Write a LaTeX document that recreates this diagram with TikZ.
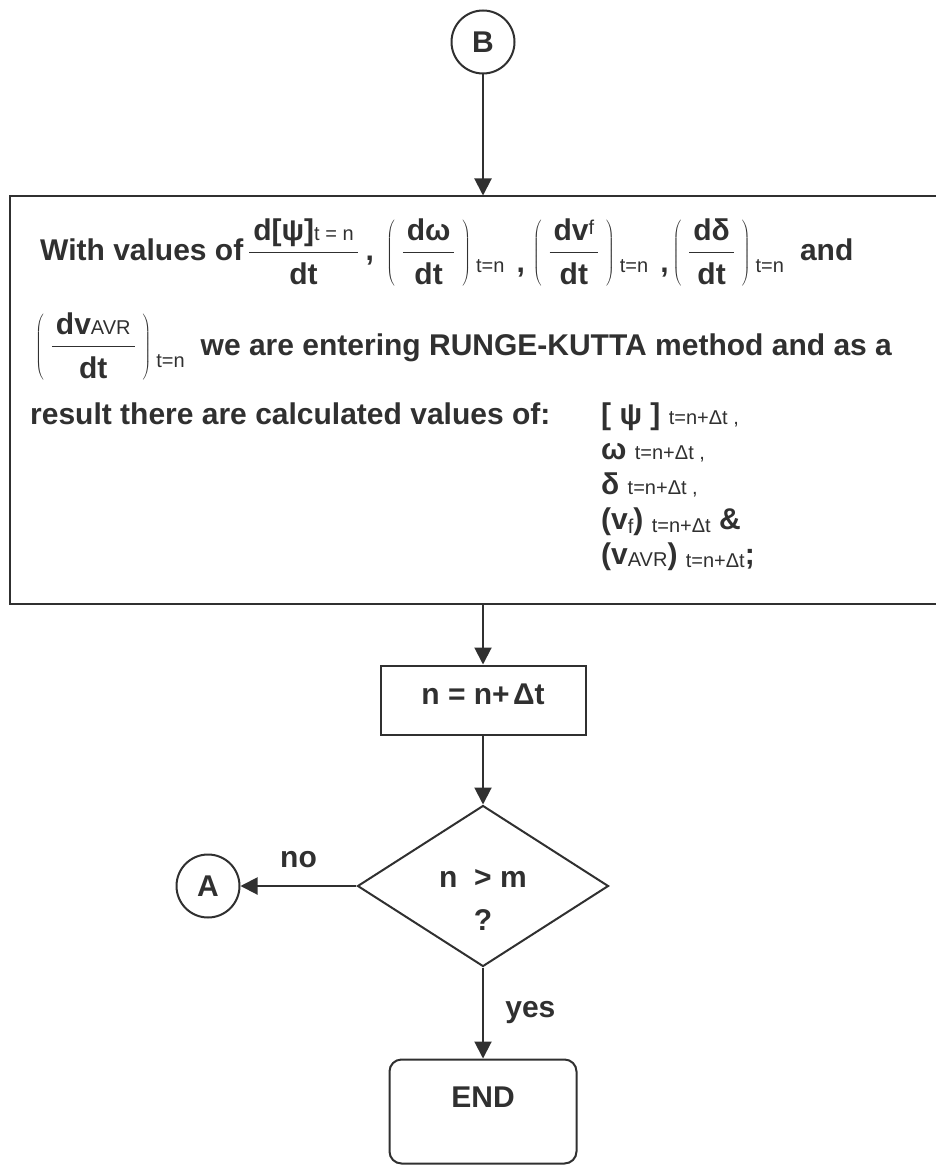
\documentclass[tikz,border=0pt]{standalone}
\usepackage{fix-cm}
\usepackage{fontspec}
\setmainfont{Liberation Sans}
\usepackage{tikz}
\usetikzlibrary{arrows.meta,positioning,shapes.geometric}
\definecolor{ink}{RGB}{48,48,48}
\setlength{\arrayrulewidth}{1.5pt}

% small index text
\newcommand{\sm}[1]{{\fontsize{20}{20}\selectfont\mdseries #1}}
% stacked fraction, with and without brackets
\newcommand{\frc}[2]{\vcenter{\hbox{\renewcommand\arraystretch{0}\begin{tabular}{@{\hspace{4pt}}c@{\hspace{4pt}}}\rule[-11pt]{0pt}{33pt}#1\\\hline\rule[-4pt]{0pt}{35pt}#2\end{tabular}}}}
\newcommand{\dfr}[2]{$\frc{#1}{#2}$}
\newcommand{\pfr}[2]{$\left(\hspace{8pt}\frc{#1}{#2}\hspace{8pt}\right)$}
\newcommand{\tn}{\hspace{5pt}\raisebox{-12pt}{\sm{t=n}}}
\newcommand{\cm}{\raisebox{-12pt}{\hspace{12pt},}}

\begin{document}
\begin{tikzpicture}[
  x=1pt, y=1pt,
  font=\fontsize{30}{35}\selectfont\bfseries,
  color=ink,
  box/.style={draw=ink, line width=2pt, inner sep=0pt},
  conn/.style={circle, draw=ink, line width=2pt, minimum size=63pt, inner sep=0pt},
  arr/.style={-{Triangle[length=17pt,width=17pt]}, line width=2pt, draw=ink},
  txt/.style={anchor=base west, inner sep=0pt}
]
\useasboundingbox (0,0) rectangle (935,-1166);

\node[conn] (B) at (483,-42) {B};
\node[box, below=121pt of B, minimum width=946pt, minimum height=407pt] (rk) {};
\node[box, below=60pt of rk, minimum width=205pt, minimum height=69pt,
  text height=21pt, text depth=12pt] (step) {n = n+ $\!$Δt};
\node[box, diamond, below=69pt of step, minimum width=251pt, minimum height=161pt,
  label={[name=cond, align=center, yshift=-14pt,
    font=\fontsize{30}{43}\selectfont\bfseries]center:n \ > m\\?}] (test) {};
\node[conn, left=116pt of test] (A) {A};
\node[box, rounded corners=12pt, below=91pt of test, minimum width=187pt,
  text height=48pt, text depth=56pt] (stop) {END};

% text of the Runge-Kutta block
\node[txt] (l1) at (40,-261) {With values of\hspace{6pt}\dfr{d[ψ]\sm{t = n}}{dt}\hspace{8pt},\hspace{12pt}\pfr{dω}{dt}\tn\cm\hspace{8pt}\pfr{dv\raisebox{6pt}{\sm{f}}}{dt}\tn\cm\hspace{4pt}\pfr{dδ}{dt}\tn\hspace{16pt}and};
\node[txt] (l2) at (35,-355) {\pfr{dv\sm{AVR}}{dt}\tn\hspace{16pt}we are entering RUNGE-KUTTA method and as a};
\node[txt] (l3) at (30,-424) {result there are calculated values of:};
\node[txt] (vals) at (601,-424) {\begin{tabular}[t]{@{}l@{}}
[ ψ ] \sm{t=n+Δt ,}\\
ω \sm{t=n+Δt ,}\\
δ \sm{t=n+Δt ,}\\
(v\raisebox{-4pt}{\sm{f}}) \raisebox{-3pt}{\sm{t=n+Δt}} \&\\
(v\raisebox{-2pt}{\sm{AVR}}) \raisebox{-3pt}{\sm{t=n+Δt}};
\end{tabular}};

\draw[arr] (B) -- (rk);
\draw[arr] (rk) -- (step);
\draw[arr] (step) -- (test);
\draw[arr] (test) -- node[above=14pt]{no} (A);
\draw[arr] (test) -- node[right=18pt]{yes} (stop);
\end{tikzpicture}
\end{document}
